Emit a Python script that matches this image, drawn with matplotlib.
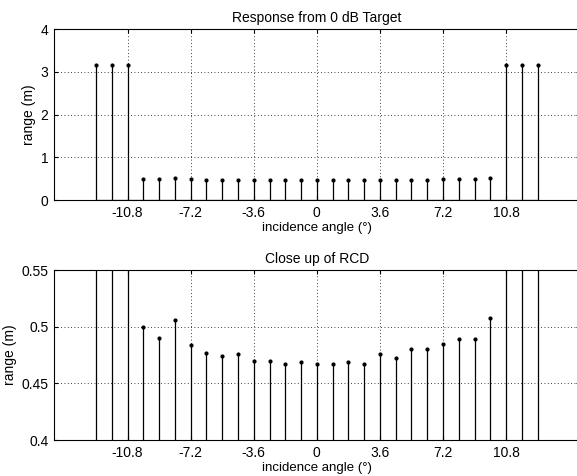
import numpy as np
import matplotlib
matplotlib.use('Agg')
import matplotlib.pyplot as plt

plt.rcParams['font.family'] = ['Liberation Sans', 'DejaVu Sans']
plt.rcParams['font.size'] = 10

# incidence angles (deg), 0.9 deg steps from -12.6 to 12.6
angles = [-12.6, -11.7, -10.8, -9.9, -9.0, -8.1, -7.2, -6.3, -5.4, -4.5,
          -3.6, -2.7, -1.8, -0.9, 0.0, 0.9, 1.8, 2.7, 3.6, 4.5, 5.4, 6.3,
          7.2, 8.1, 9.0, 9.9, 10.8, 11.7, 12.6]
# measured range (m)
ranges = [3.15, 3.15, 3.16, 0.500, 0.490, 0.506, 0.484, 0.477, 0.474, 0.476,
          0.470, 0.470, 0.467, 0.469, 0.467, 0.467, 0.469, 0.467, 0.476,
          0.472, 0.480, 0.480, 0.485, 0.489, 0.489, 0.508, 3.15, 3.16, 3.17]

xticks = [-10.8, -7.2, -3.6, 0, 3.6, 7.2, 10.8]
xtick_labels = ['-10.8', '-7.2', '-3.6', '0', '3.6', '7.2', '10.8']

fig = plt.figure(figsize=(5.77, 4.76), dpi=100)
ax1 = fig.add_axes([0.0936, 0.5798, 0.911, 0.359])
ax2 = fig.add_axes([0.0936, 0.0756, 0.911, 0.357])


def stem_panel(ax, ylim, yticks, yticklabels, title):
    ml, sl, bl = ax.stem(angles, ranges, linefmt='k-', markerfmt='k.', basefmt='k-')
    sl.set_linewidth(0.9)
    ml.set_markersize(4)
    bl.set_linewidth(0.9)
    ax.set_xlim(-15, 15)
    ax.set_ylim(*ylim)
    ax.set_xticks(xticks)
    ax.set_xticklabels(xtick_labels)
    ax.set_yticks(yticks)
    ax.set_yticklabels(yticklabels)
    ax.grid(True, linestyle=(0, (1, 3)), color='k', linewidth=0.6)
    ax.tick_params(direction='in', top=True, right=True, length=3, pad=4)
    for s in ax.spines.values():
        s.set_linewidth(0.8)
    ax.set_xlabel('incidence angle (°)', fontsize=9.5, labelpad=2)
    ax.set_ylabel('range (m)', labelpad=3)
    ax.set_title(title, fontsize=10, pad=5)


stem_panel(ax1, (0, 4), [0, 1, 2, 3, 4], ['0', '1', '2', '3', '4'],
           'Response from 0 dB Target')
stem_panel(ax2, (0.4, 0.55), [0.4, 0.45, 0.5, 0.55], ['0.4', '0.45', '0.5', '0.55'],
           'Close up of RCD')

fig.savefig('out.png', dpi=100)
